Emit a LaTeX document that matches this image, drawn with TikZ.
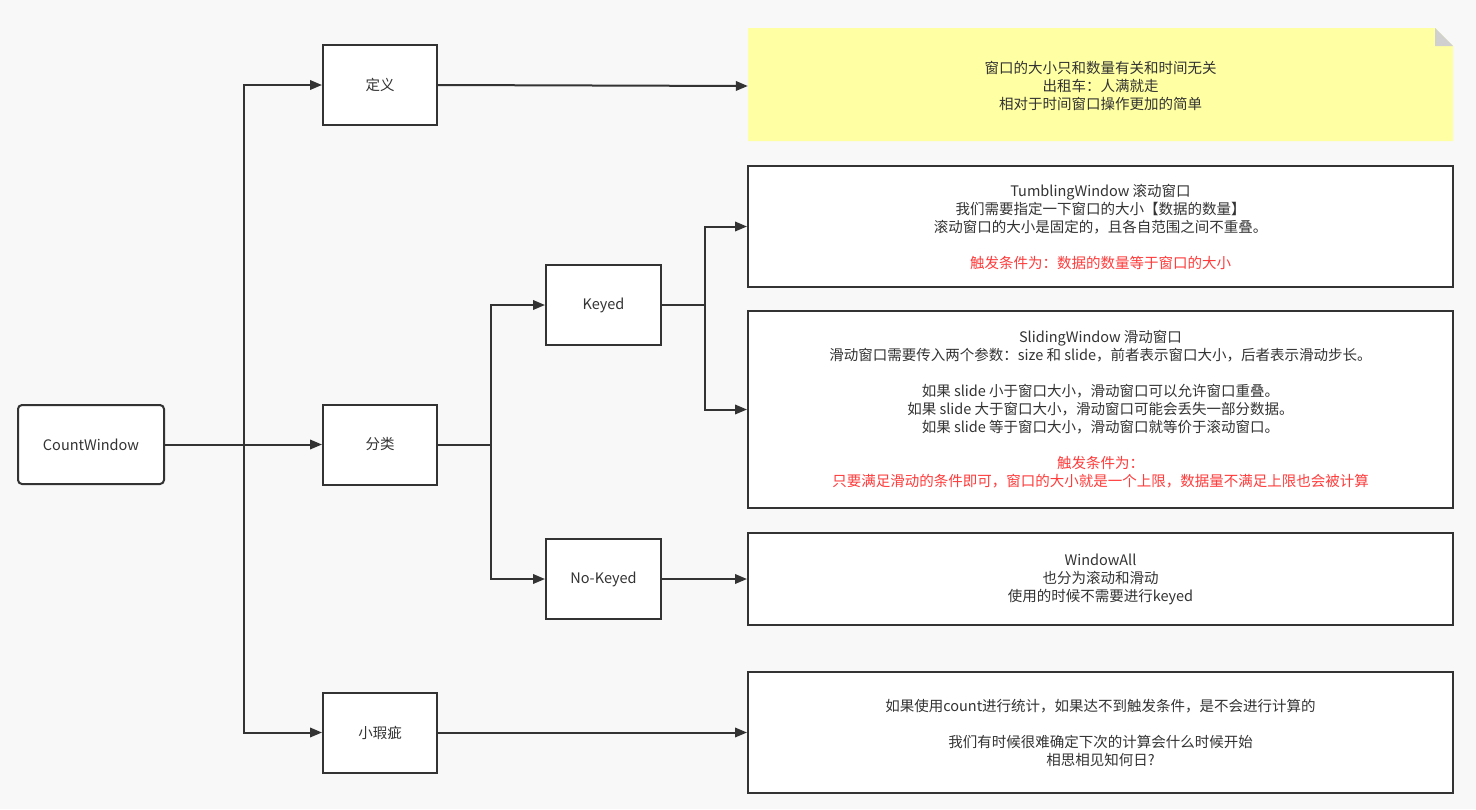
\documentclass[tikz,border=0pt]{standalone}
\usepackage{fontspec}
\setmainfont{Noto Sans CJK SC}
\usetikzlibrary{arrows.meta}
\definecolor{ink}{HTML}{333333}
\definecolor{bg}{HTML}{F8F8F8}
\definecolor{notefill}{HTML}{FFFFA3}
\definecolor{fold}{HTML}{D0D0D0}
\definecolor{alert}{HTML}{FF3B3B}
\begin{document}
\begin{tikzpicture}[x=1pt,y=-1pt,
  every node/.style={font=\fontsize{14.5}{18}\selectfont, text=ink},
  box/.style={draw=ink, line width=2pt, fill=white, inner sep=0pt, align=center},
  small/.style={box, minimum width=114pt, minimum height=80pt},
  wide/.style={box, minimum width=705pt},
  link/.style={draw=ink, line width=2pt, -{Triangle[length=12pt,width=9.5pt]}},
  seg/.style={draw=ink, line width=2pt}]
  % page
  \fill[bg] (0,0) rectangle (1476,809);
  \useasboundingbox (0,0) rectangle (1476,809);

  % left column
  \node[box, rounded corners=4pt, minimum width=146pt, minimum height=79pt] (root) at (91,444.5) {CountWindow};
  \node[small] (def) at (380,85) {定义};
  \node[small] (cls) at (380,444.5) {分类};
  \node[small] (flaw) at (380,732.5) {小瑕疵};
  \node[small, minimum width=115pt] (keyed) at (603.5,305) {Keyed};
  \node[small, minimum width=115pt] (nokeyed) at (603.5,579) {No-Keyed};

  % sticky note with folded corner
  \fill[notefill] (748,28) -- (1435,28) -- (1453,46) -- (1453,141) -- (748,141) -- cycle;
  \fill[fold] (1435,28) -- (1453,46) -- (1435,46) -- cycle;
  \node[align=center, inner sep=0pt, minimum width=705pt, minimum height=113pt] (note) at (1100.5,86)
    {窗口的大小只和数量有关和时间无关\\出租车：人满就走\\相对于时间窗口操作更加的简单};

  % detail boxes
  \node[wide, minimum height=121pt] (tumble) at (1100.5,226.5)
    {TumblingWindow 滚动窗口\\我们需要指定一下窗口的大小【数据的数量】\\滚动窗口的大小是固定的，且各自范围之间不重叠。\\[18pt]
     \textcolor{alert}{触发条件为：数据的数量等于窗口的大小}};
  \node[wide, minimum height=197pt] (slide) at (1100.5,409.5)
    {SlidingWindow 滑动窗口\\滑动窗口需要传入两个参数：size 和 slide，前者表示窗口大小，后者表示滑动步长。\\[18pt]
     如果 slide 小于窗口大小，滑动窗口可以允许窗口重叠。\\如果 slide 大于窗口大小，滑动窗口可能会丢失一部分数据。\\如果 slide 等于窗口大小，滑动窗口就等价于滚动窗口。\\[18pt]
     \textcolor{alert}{触发条件为：}\\\textcolor{alert}{只要满足滑动的条件即可，窗口的大小就是一个上限，数据量不满足上限也会被计算}};
  \node[wide, minimum height=92pt] (all) at (1100.5,579)
    {WindowAll\\也分为滚动和滑动\\使用的时候不需要进行keyed};
  \node[wide, minimum height=121pt] (flawtext) at (1100.5,732.5)
    {如果使用count进行统计，如果达不到触发条件，是不会进行计算的\\[18pt]
     我们有时候很难确定下次的计算会什么时候开始\\相思相见知何日?};

  % trunk from the root
  \coordinate (t1) at (244,444.5);
  \draw[seg] (root.east) -- (t1);
  \draw[link] (t1) |- (def.west);
  \draw[link] (t1) -- (cls.west);
  \draw[link] (t1) |- (flaw.west);
  \draw[link] (def.east) -- (note.west);

  % classification branch
  \coordinate (t2) at (491,444.5);
  \draw[seg] (cls.east) -- (t2);
  \draw[link] (t2) |- (keyed.west);
  \draw[link] (t2) |- (nokeyed.west);

  % keyed branch
  \coordinate (t3) at (705,305);
  \draw[seg] (keyed.east) -- (t3);
  \draw[link] (t3) |- (tumble.west);
  \draw[link] (t3) |- (slide.west);

  \draw[link] (nokeyed.east) -- (all.west);
  \draw[link] (flaw.east) -- (flawtext.west);
\end{tikzpicture}
\end{document}
